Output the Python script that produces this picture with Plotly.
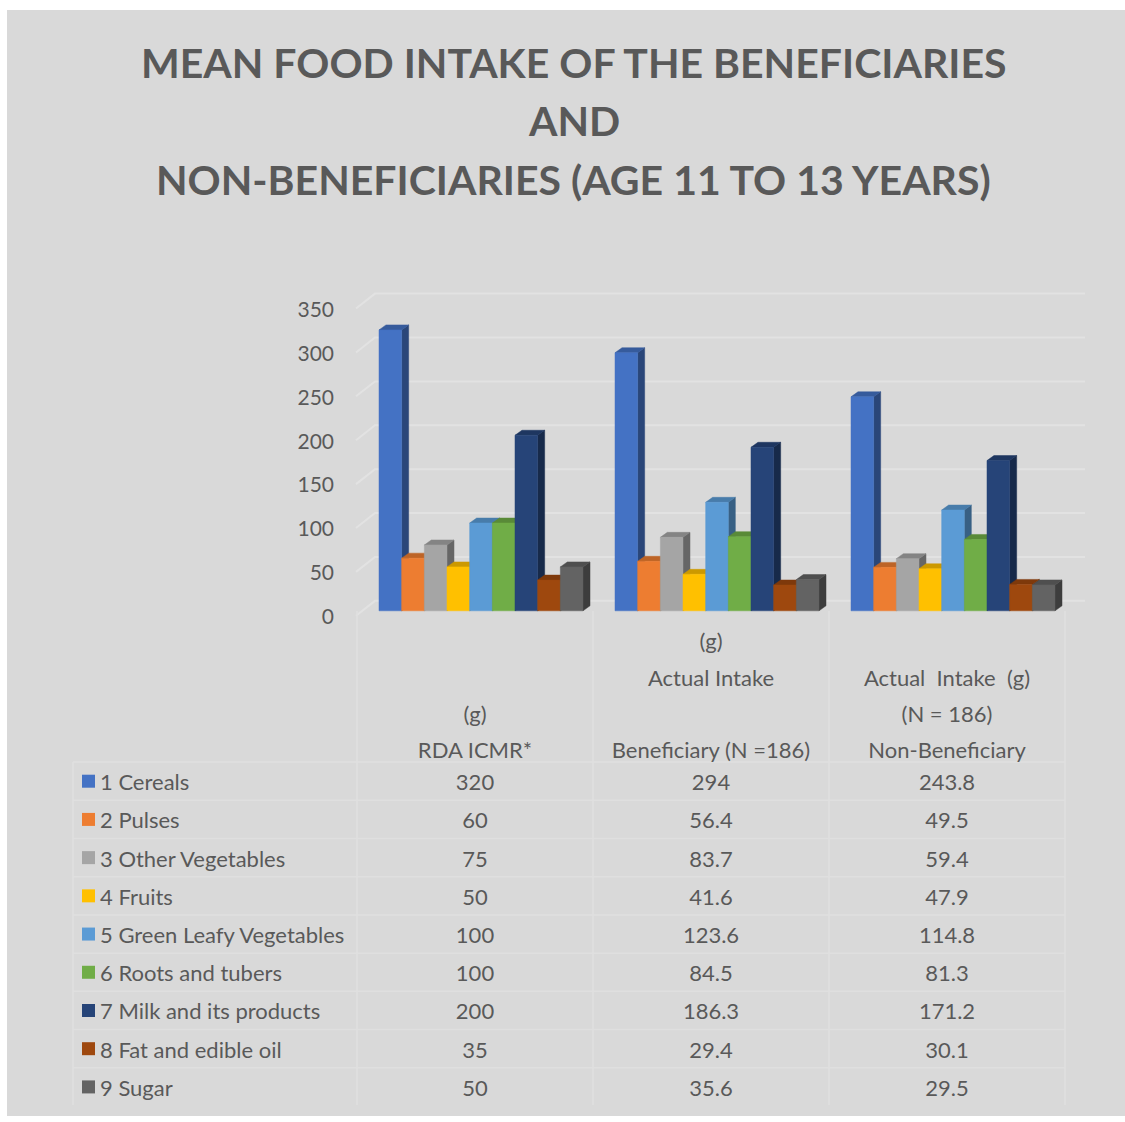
import plotly.graph_objects as go

# ---------------- data ----------------
categories = ["RDA ICMR* (g)", "Actual Intake (g) Beneficiary (N =186)", "Actual  Intake  (g) (N = 186) Non-Beneficiary"]
header_lines = [  # bottom-up lines of each category header cell
    ["RDA ICMR*", "(g)"],
    ["Beneficiary (N =186)", "", "Actual Intake", "(g)"],
    ["Non-Beneficiary", "(N =\u00a0186)", "Actual\u00a0\u00a0Intake\u00a0\u00a0(g)"],
]
series_names = ["1 Cereals", "2 Pulses", "3 Other Vegetables", "4 Fruits",
                "5 Green Leafy Vegetables", "6 Roots and tubers",
                "7 Milk and its products", "8 Fat and edible oil", "9 Sugar"]
rda = [320, 60, 75, 50, 100, 100, 200, 35, 50]
beneficiary = [294, 56.4, 83.7, 41.6, 123.6, 84.5, 186.3, 29.4, 35.6]
non_beneficiary = [243.8, 49.5, 59.4, 47.9, 114.8, 81.3, 171.2, 30.1, 29.5]
columns = [rda, beneficiary, non_beneficiary]
y_ticks = [0, 50, 100, 150, 200, 250, 300, 350]
title_lines = ["MEAN FOOD INTAKE OF THE BENEFICIARIES", "AND",
               "NON-BENEFICIARIES (AGE 11 TO 13 YEARS)"]

# ---------------- style ----------------
colors = ["#4472C4", "#ED7D31", "#A5A5A5", "#FFC000", "#5B9BD5",
          "#70AD47", "#264478", "#9E480E", "#636363"]
TEXT = "#595959"
BG = "#D9D9D9"
GRID = "#E2E2E2"
TLINE = "#DFDFDF"
FONT = "Lato"


def shade(hexc, f):
    h = hexc.lstrip("#")
    r, g, b = (int(h[i:i + 2], 16) for i in (0, 2, 4))
    return "#%02X%02X%02X" % (int(r * f), int(g * f), int(b * f))


W, H = 1125, 1122
# x calibration: category centre pixel and step
XC0, XSTEP = 475.0, 236.0
def xu(px):
    return (px - XC0) / XSTEP

# bar y-axis calibration
Y0_PX, PPU = 613.0, 0.881
PLOT_TOP, PLOT_BOT = 284.0, 626.0
def yu_off(px):  # pixel offset (upwards positive) -> data units
    return px / PPU

# table y-axis calibration (rows)
ROW0_PX, ROW_H = 784.0, 38.35
TAB_TOP, TAB_BOT = 613.0, 1109.0
TEXT_DROP = 3.5 / ROW_H  # text baseline correction (rows are reversed: + is down)
def ku(px):
    return (px - ROW0_PX) / ROW_H

n_s = len(series_names)
group_w = 0.8644
bar_w = group_w / n_s
group_shift = 0.0254
ddx = 7.0 / XSTEP
ddy = yu_off(5.0)

fig = go.Figure()

# ---------- back wall gridlines ----------
gx, gy = [], []
wall_front_x, wall_back_x, wall_right_x = xu(356), xu(375), xu(1085)
for v in y_ticks:
    gx += [wall_front_x, wall_back_x, wall_right_x, None]
    gy += [v - yu_off(5), v + yu_off(10), v + yu_off(10), None]
fig.add_trace(go.Scatter(x=gx, y=gy, mode="lines", line=dict(color=GRID, width=2),
                         hoverinfo="skip", showlegend=False))

# ---------- 3D bars ----------
for s in range(n_s):
    sx, sy, tx, ty, fx, fy = [], [], [], [], [], []
    for c, col in enumerate(columns):
        v = col[s]
        x0 = c + group_shift - group_w / 2 + s * bar_w
        x1 = x0 + bar_w
        # side face
        sx += [x1, x1 + ddx, x1 + ddx, x1, x1, None]
        sy += [0, ddy, v + ddy, v, 0, None]
        # top face
        tx += [x0, x1, x1 + ddx, x0 + ddx, x0, None]
        ty += [v, v, v + ddy, v + ddy, v, None]
        # front face
        fx += [x0, x1, x1, x0, x0, None]
        fy += [0, 0, v, v, 0, None]
    fig.add_trace(go.Scatter(x=sx, y=sy, mode="lines", fill="toself",
                             fillcolor=shade(colors[s], 0.62),
                             line=dict(width=0.5, color=shade(colors[s], 0.62)),
                             hoverinfo="skip", showlegend=False))
    fig.add_trace(go.Scatter(x=tx, y=ty, mode="lines", fill="toself",
                             fillcolor=shade(colors[s], 0.80),
                             line=dict(width=0.5, color=shade(colors[s], 0.80)),
                             hoverinfo="skip", showlegend=False))
    fig.add_trace(go.Scatter(x=fx, y=fy, mode="lines", fill="toself",
                             fillcolor=colors[s],
                             line=dict(width=0.5, color=colors[s]),
                             name=series_names[s], showlegend=False,
                             hoverinfo="skip"))

# ---------- data table ----------
tab_left = xu(73)
lx, ly = [], []
for b in [-0.5, 0.5, 1.5, 2.5]:
    lx += [b, b, None]
    ly += [ku(TAB_TOP), ku(TAB_BOT), None]
lx += [tab_left, tab_left, None]
ly += [-0.5, n_s - 0.5, None]
for j in range(n_s + 1):
    lx += [tab_left, 2.5, None]
    ly += [j - 0.5, j - 0.5, None]
fig.add_trace(go.Scatter(x=lx, y=ly, yaxis="y3", mode="lines",
                         line=dict(color=TLINE, width=1.5),
                         hoverinfo="skip", showlegend=False))

rows = list(range(n_s))
text_rows = [r + TEXT_DROP for r in rows]
# legend keys
fig.add_trace(go.Scatter(x=[xu(88.5)] * n_s, y=rows, yaxis="y3",
                         mode="markers",
                         marker=dict(symbol="square", size=13, color=colors,
                                     line=dict(width=0)),
                         hoverinfo="skip", showlegend=False))
fig.add_trace(go.Scatter(x=[xu(100)] * n_s, y=text_rows, yaxis="y3",
                         mode="text", text=series_names, textposition="middle right",
                         textfont=dict(family=FONT, size=22, color=TEXT),
                         hoverinfo="skip", showlegend=False))
# values
for c, col in enumerate(columns):
    fig.add_trace(go.Scatter(x=[c] * n_s, y=text_rows, yaxis="y3",
                             mode="text", text=["%g" % v for v in col],
                             textposition="middle center",
                             textfont=dict(family=FONT, size=22, color=TEXT),
                             hoverinfo="skip", showlegend=False))
# headers
HEADER_PX = [752, 716, 679, 642]
hx, hy, ht = [], [], []
for c, lines in enumerate(header_lines):
    for j, t in enumerate(lines):
        if t:
            hx.append(c)
            hy.append(ku(HEADER_PX[j]) + TEXT_DROP)
            ht.append(t)
fig.add_trace(go.Scatter(x=hx, y=hy, yaxis="y3", mode="text", text=ht,
                         textposition="middle center",
                         textfont=dict(family=FONT, size=22, color=TEXT),
                         hoverinfo="skip", showlegend=False))

# ---------- title ----------
TITLE_PX = [63, 121, 180]
annotations = []
for t, py in zip(title_lines, TITLE_PX):
    annotations.append(dict(text="<b>%s</b>" % t, x=573.5 / W, y=1 - py / H,
                            xref="paper", yref="paper", xanchor="center",
                            yanchor="middle", showarrow=False,
                            font=dict(family=FONT, size=41, color=TEXT)))

fig.update_layout(
    width=W, height=H, autosize=False,
    margin=dict(l=0, r=0, t=0, b=0),
    paper_bgcolor="white", plot_bgcolor="rgba(0,0,0,0)",
    showlegend=False,
    annotations=annotations,
    shapes=[dict(type="rect", xref="paper", yref="paper",
                 x0=7 / W, x1=1.0, y0=1 - 1120 / H, y1=1 - 10 / H,
                 fillcolor=BG, line=dict(width=0), layer="below")],
    xaxis=dict(domain=[0, 1], range=[xu(0), xu(W)], visible=False,
               fixedrange=True),
    yaxis=dict(domain=[1 - PLOT_BOT / H, 1 - PLOT_TOP / H],
               range=[-(PLOT_BOT - Y0_PX) / PPU, (Y0_PX - PLOT_TOP) / PPU],
               anchor="free", position=338 / W, side="left",
               tickvals=y_ticks, ticks="", ticklabelshift=6,
               ticklabelstandoff=4,
               showgrid=False, zeroline=False, showline=False,
               tickfont=dict(family=FONT, size=21, color=TEXT)),
    yaxis3=dict(domain=[1 - TAB_BOT / H, 1 - TAB_TOP / H],
                range=[ku(TAB_BOT), ku(TAB_TOP)], anchor="x",
                visible=False, fixedrange=True),
)

fig.write_html("out.html")
